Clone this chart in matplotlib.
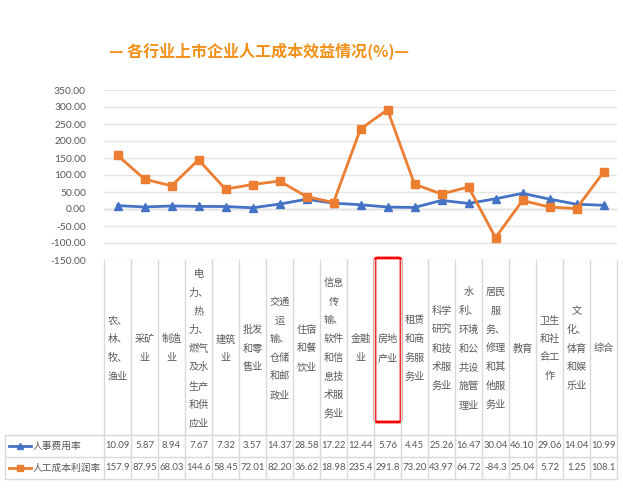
import matplotlib
matplotlib.use("Agg")
import matplotlib.pyplot as plt
from matplotlib.transforms import blended_transform_factory
from matplotlib.patches import FancyBboxPatch
from matplotlib.lines import Line2D

plt.rcParams['font.family'] = ['Noto Sans CJK SC', 'DejaVu Sans']
NUM_FONT = ['Lato', 'DejaVu Sans']

title = "— 各行业上市企业人工成本效益情况(%)—"
categories = ["农、\n林、\n牧、\n渔业", "采矿\n业", "制造\n业",
              "电\n力、\n热\n力、\n燃气\n及水\n生产\n和供\n应业",
              "建筑\n业", "批发\n和零\n售业", "交通\n运\n输、\n仓储\n和邮\n政业",
              "住宿\n和餐\n饮业", "信息\n传\n输、\n软件\n和信\n息技\n术服\n务业",
              "金融\n业", "房地\n产业", "租赁\n和商\n务服\n务业",
              "科学\n研究\n和技\n术服\n务业", "水\n利、\n环境\n和公\n共设\n施管\n理业",
              "居民\n服\n务、\n修理\n和其\n他服\n务业", "教育", "卫生\n和社\n会工\n作",
              "文\n化、\n体育\n和娱\n乐业", "综合"]
series_names = ["人事费用率", "人工成本利润率"]
personnel_rate = [10.09, 5.87, 8.94, 7.67, 7.32, 3.57, 14.37, 28.58, 17.22, 12.44,
                  5.76, 4.45, 25.26, 16.47, 30.04, 46.10, 29.06, 14.04, 10.99]
profit_rate = [157.9, 87.95, 68.03, 144.6, 58.45, 72.01, 82.20, 36.62, 18.98, 235.4,
               291.8, 73.20, 43.97, 64.72, -84.3, 25.04, 5.72, 1.25, 108.1]
table_personnel = ["10.09", "5.87", "8.94", "7.67", "7.32", "3.57", "14.37", "28.58", "17.22",
                   "12.44", "5.76", "4.45", "25.26", "16.47", "30.04", "46.10", "29.06", "14.04", "10.99"]
table_profit = ["157.9", "87.95", "68.03", "144.6", "58.45", "72.01", "82.20", "36.62", "18.98",
                "235.4", "291.8", "73.20", "43.97", "64.72", "-84.3", "25.04", "5.72", "1.25", "108.1"]
highlight_index = 10

W, H = 623, 497
fig = plt.figure(figsize=(W / 100, H / 100), dpi=100)

# pixel layout
px_l, px_r, px_t, px_b = 104, 617, 90, 260
ax = fig.add_axes([px_l / W, 1 - px_b / H, (px_r - px_l) / W, (px_b - px_t) / H])
ov = fig.add_axes([0, 0, 1, 1], zorder=-1)
ov.set_xlim(0, W)
ov.set_ylim(H, 0)
ov.axis('off')

blue = '#4472C4'
orange = '#ED7D31'
grid_c = '#E4E4E4'
text_c = '#595959'

n = len(categories)
x = list(range(n))
ax.plot(x, personnel_rate, color=blue, lw=2, marker='^', ms=5.5, zorder=3)
ax.plot(x, profit_rate, color=orange, lw=2, marker='s', ms=5.5, zorder=3)
ax.set_xlim(-0.5, n - 0.5)
ax.set_ylim(-150, 350)
ax.set_yticks(range(-150, 351, 50))
ax.set_yticklabels([f"{v:.2f}" for v in range(-150, 351, 50)], fontsize=7.4, color=text_c,
                   family=NUM_FONT)
ax.tick_params(axis='y', length=0, pad=13)
ax.set_xticks([])
for s in ax.spines.values():
    s.set_visible(False)
ax.yaxis.grid(True, color=grid_c, lw=1)
ax.axhline(0, color='#C8C8C8', lw=1, zorder=1)
ax.set_facecolor('none')

fig.text(259 / W, 1 - 51 / H, title, ha='center', va='center', fontsize=11.5,
         fontweight='bold', color='#F39019')

# table
tr = blended_transform_factory(ax.transData, ov.transData)
hdr_t, hdr_b, r1_b, r2_b = 260, 435, 457, 479
line_c = '#D9D9D9'
for i in range(n + 1):
    ov.plot([i - 0.5, i - 0.5], [hdr_t, r2_b], color=line_c, lw=1, transform=tr)
ov.plot([5, px_r], [hdr_b, hdr_b], color=line_c, lw=1)
ov.plot([5, px_r], [r1_b, r1_b], color=line_c, lw=1)
ov.plot([5, px_r], [r2_b, r2_b], color=line_c, lw=1)
ov.plot([5, 5], [hdr_b, r2_b], color=line_c, lw=1)

for i, lab in enumerate(categories):
    ov.text(i, (hdr_t + hdr_b) / 2 + 1, lab, transform=tr, ha='center', va='center',
            fontsize=7.3, color=text_c, linespacing=2.08)
    ov.text(i, (hdr_b + r1_b) / 2, table_personnel[i], transform=tr, ha='center', va='center',
            fontsize=6.9, color=text_c, family=NUM_FONT)
    ov.text(i, (r1_b + r2_b) / 2, table_profit[i], transform=tr, ha='center', va='center',
            fontsize=6.9, color=text_c, family=NUM_FONT)

# legend keys in table
for (yy, col, mk, name) in [((hdr_b + r1_b) / 2, blue, '^', series_names[0]),
                            ((r1_b + r2_b) / 2, orange, 's', series_names[1])]:
    ov.add_line(Line2D([9, 31], [yy, yy], color=col, lw=2))
    ov.plot([20], [yy], marker=mk, color=col, ms=5)
    ov.text(33, yy, name, ha='left', va='center', fontsize=7, color=text_c)

# red highlight box
hx0 = ax.transData.transform((highlight_index - 0.5, 0))[0]
box = FancyBboxPatch((hx0 + 1, 258), 26, 164, boxstyle="round,pad=0,rounding_size=2",
                     fill=False, edgecolor='#FF0000', lw=2)
ov.add_patch(box)

fig.savefig("out.png", dpi=100)
